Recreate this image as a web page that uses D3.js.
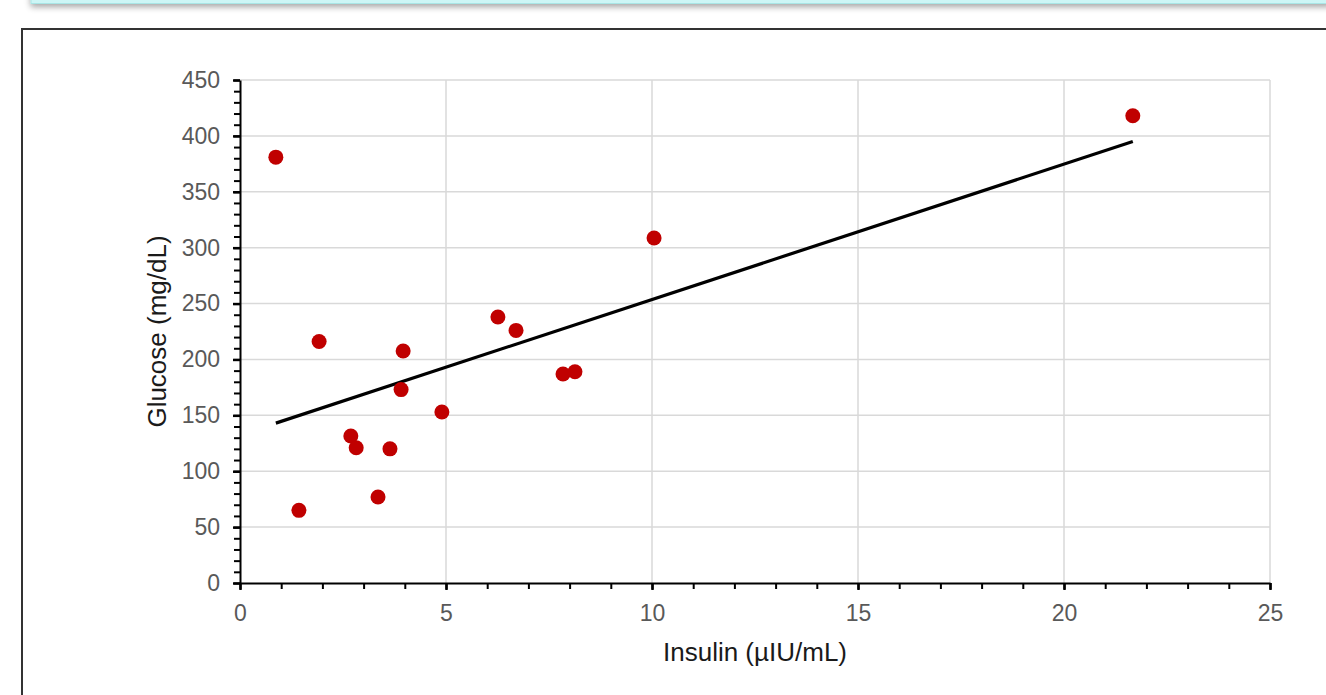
<!DOCTYPE html>
<html>
<head>
<meta charset="utf-8">
<script src="https://cdn.jsdelivr.net/npm/d3@7"></script>
<style>
  html, body { margin: 0; padding: 0; background: #fff; overflow: hidden; }
  svg { display: block; font-family: "Liberation Sans", Arial, sans-serif; }
</style>
</head>
<body>
<div id="chart"></div>
<script>
// Insulin (x) and glucose (y) readings.
var insulin = [0.87, 1.43, 1.92, 2.69, 2.82, 3.35, 3.64, 3.91, 3.96, 4.90, 6.26, 6.70, 7.84, 8.13, 10.05, 21.67];
var glucose = [381, 65, 216, 131.5, 121, 77, 120, 173, 207.5, 153, 238, 226, 187, 189, 308.6, 418];

var xTicks = [0, 5, 10, 15, 20, 25];
var yTicks = [0, 50, 100, 150, 200, 250, 300, 350, 400, 450];

var width = 1326;
var height = 695;

// Plot area ("top" is taken by window.top, so prefix these).
var plotLeft = 240, plotRight = 1270, plotTop = 80, plotBottom = 583;

var x = d3.scaleLinear().domain([0, 25]).range([plotLeft, plotRight]);
var y = d3.scaleLinear().domain([0, 450]).range([plotBottom, plotTop]);

var svg = d3.select("#chart").append("svg")
    .attr("width", width)
    .attr("height", height);

// Little shadowed box at the top edge of the page.
var defs = svg.append("defs");
var blur = defs.append("filter").attr("id", "shadow")
    .attr("x", "-5%").attr("y", "-50%").attr("width", "110%").attr("height", "300%");
blur.append("feGaussianBlur").attr("in", "SourceAlpha").attr("stdDeviation", 3);
blur.append("feOffset").attr("dy", 3).attr("result", "b");
blur.append("feComponentTransfer").append("feFuncA").attr("type", "linear").attr("slope", 0.35);
var merge = blur.append("feMerge");
merge.append("feMergeNode");
merge.append("feMergeNode").attr("in", "SourceGraphic");

svg.append("rect")
    .attr("x", 31).attr("y", -20)
    .attr("width", 1300).attr("height", 23.5)
    .attr("fill", "#cdf6f6")
    .attr("stroke", "#a9e6e6")
    .attr("stroke-width", 1)
    .style("filter", "url(#shadow)");

// Chart frame (runs off the page to the right and bottom).
svg.append("rect")
    .attr("x", 22).attr("y", 29)
    .attr("width", 1340).attr("height", 700)
    .attr("fill", "#fff")
    .attr("stroke", "#333")
    .attr("stroke-width", 2);

// Gridlines.
svg.append("g")
    .selectAll("line")
    .data(yTicks.filter(function(d) { return d > 0; }))
    .enter().append("line")
    .attr("x1", plotLeft).attr("x2", plotRight)
    .attr("y1", function(d) { return y(d); })
    .attr("y2", function(d) { return y(d); })
    .attr("stroke", "#d9d9d9")
    .attr("stroke-width", 1.5);

svg.append("g")
    .selectAll("line")
    .data(xTicks.filter(function(d) { return d > 0; }))
    .enter().append("line")
    .attr("y1", plotTop).attr("y2", plotBottom)
    .attr("x1", function(d) { return x(d); })
    .attr("x2", function(d) { return x(d); })
    .attr("stroke", "#d9d9d9")
    .attr("stroke-width", 1.5);

// Axes: minor ticks first, then major ticks with labels.
svg.append("g")
    .attr("transform", "translate(0," + plotBottom + ")")
    .call(d3.axisBottom(x).ticks(25).tickSize(6).tickFormat(""))
    .call(function(g) {
      g.select(".domain").remove();
      g.selectAll("line").attr("stroke", "#000").attr("stroke-width", 2);
    });

svg.append("g")
    .attr("transform", "translate(" + plotLeft + ",0)")
    .call(d3.axisLeft(y).ticks(45).tickSize(6).tickFormat(""))
    .call(function(g) {
      g.select(".domain").remove();
      g.selectAll("line").attr("stroke", "#000").attr("stroke-width", 2);
    });

var xAxis = svg.append("g")
    .attr("transform", "translate(0," + plotBottom + ")")
    .call(d3.axisBottom(x).tickValues(xTicks).tickSize(7).tickPadding(15).tickSizeOuter(0));
xAxis.select(".domain").attr("stroke", "#000").attr("stroke-width", 2);
xAxis.selectAll("line").attr("stroke", "#000").attr("stroke-width", 2.5);
xAxis.selectAll("text")
    .attr("fill", "#595959")
    .style("font-size", "23px")
    .style("font-family", "Liberation Sans, Arial, sans-serif");

var yAxis = svg.append("g")
    .attr("transform", "translate(" + plotLeft + ",0)")
    .call(d3.axisLeft(y).tickValues(yTicks).tickSize(7).tickPadding(13).tickSizeOuter(0));
yAxis.select(".domain").attr("stroke", "#000").attr("stroke-width", 2);
yAxis.selectAll("line").attr("stroke", "#000").attr("stroke-width", 2.5);
yAxis.selectAll("text")
    .attr("fill", "#595959")
    .style("font-size", "23px")
    .style("font-family", "Liberation Sans, Arial, sans-serif");

// Linear trend line (least squares) between the smallest and largest insulin value.
var mx = d3.mean(insulin), my = d3.mean(glucose);
var sxy = d3.sum(insulin, function(d, i) { return (d - mx) * (glucose[i] - my); });
var sxx = d3.sum(insulin, function(d) { return (d - mx) * (d - mx); });
var slope = sxy / sxx;
var intercept = my - slope * mx;
var ends = d3.extent(insulin);

svg.append("line")
    .attr("x1", x(ends[0])).attr("y1", y(intercept + slope * ends[0]))
    .attr("x2", x(ends[1])).attr("y2", y(intercept + slope * ends[1]))
    .attr("stroke", "#000")
    .attr("stroke-width", 3.2);

// Points.
svg.append("g")
    .selectAll("circle")
    .data(insulin)
    .enter().append("circle")
    .attr("cx", function(d) { return x(d); })
    .attr("cy", function(d, i) { return y(glucose[i]); })
    .attr("r", 7.5)
    .attr("fill", "#c00000");

// Axis titles.
svg.append("text")
    .attr("x", (plotLeft + plotRight) / 2)
    .attr("y", 661)
    .attr("text-anchor", "middle")
    .attr("fill", "#1a1a1a")
    .style("font-size", "26px")
    .text("Insulin (µIU/mL)");

svg.append("text")
    .attr("transform", "translate(166," + ((plotTop + plotBottom) / 2) + ") rotate(-90)")
    .attr("text-anchor", "middle")
    .attr("fill", "#1a1a1a")
    .style("font-size", "26px")
    .text("Glucose (mg/dL)");
</script>
</body>
</html>
